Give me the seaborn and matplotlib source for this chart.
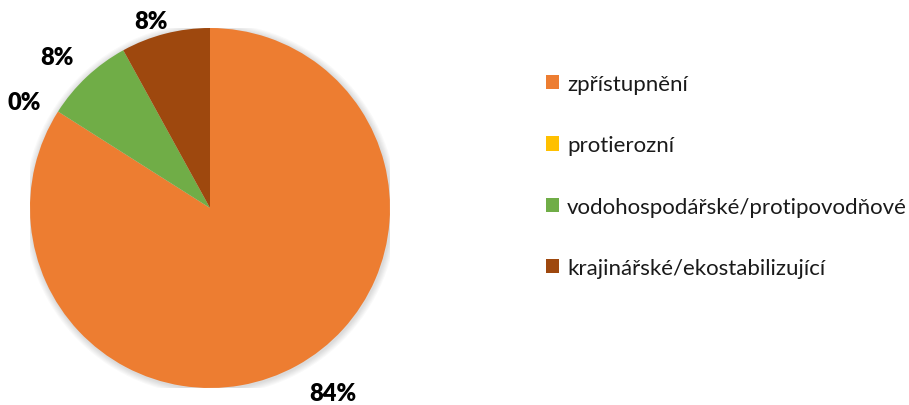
import matplotlib
matplotlib.use("Agg")
import matplotlib.pyplot as plt
from matplotlib.patches import Patch, Circle
import seaborn as sns

categories = ["zpřístupnění", "protierozní", "vodohospodářské/protipovodňové", "krajinářské/ekostabilizující"]
shares = [84, 0, 8, 8]
colors = ["#ED7D31", "#FFC000", "#70AD47", "#9E480E"]

sns.set_theme(style="white")
plt.rcParams['font.family'] = ['Lato', 'DejaVu Sans']

fig = plt.figure(figsize=(9.09, 4.06), dpi=100)
# pie centre at (210, 209) px, radius 180 px
ax = fig.add_axes([30 / 909, (406 - 389) / 406, 360 / 909, 360 / 406])
pal = sns.color_palette(colors)

# soft shadow around the pie
for k in range(6):
    ax.add_patch(Circle((0.004, -0.006), 1.0 + 0.006 * (k + 1), facecolor='black',
                        edgecolor='none', alpha=0.025, zorder=0))

wedges, texts, autotexts = ax.pie(shares, colors=pal, startangle=90, counterclock=False,
                                  autopct='%.0f%%', pctdistance=1.2,
                                  wedgeprops=dict(linewidth=0, zorder=2),
                                  textprops=dict(fontsize=17, fontweight='heavy', color='black'))
# excel-like "best fit" label placement (axes units of the pie radius)
label_pos = [(0.68, -1.03), (-1.03, 0.59), (-0.85, 0.84), (-0.33, 1.04)]
for t, p in zip(autotexts, label_pos):
    t.set_position(p)
ax.set_xlim(-1, 1)
ax.set_ylim(-1, 1)
ax.set_aspect('equal')

handles = [Patch(facecolor=c, edgecolor='none') for c in pal]
fig.legend(handles, categories, loc='upper left', bbox_to_anchor=(546 / 909, 1 - 75 / 406),
           frameon=False, fontsize=16, handlelength=0.6, handleheight=0.6,
           handletextpad=0.35, labelspacing=1.86, borderaxespad=0, borderpad=0,
           labelcolor='#1a1a1a')

fig.savefig("out.png", dpi=100)
